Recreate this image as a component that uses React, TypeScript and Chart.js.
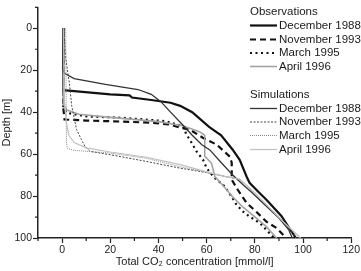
import React, { useEffect, useRef } from "react";
import { Chart, registerables } from "chart.js";

Chart.register(...registerables);

const FONT = "'Liberation Sans', Arial, Helvetica, sans-serif";

// Axis settings
const xMin = -10;
const xMax = 120;
const yMin = -10;
const yMax = 100;
const tickStep = 10;
const labelStep = 20;

const xTitle = "Total CO\u2082 concentration [mmol/l]";
const yTitle = "Depth [m]";

// Observations
const decObsConc = [0.5, 0.5, 5, 20, 28, 29, 37, 45, 49, 54, 61, 66, 70.8, 73.7, 76.6, 77.8, 81, 85, 91, 97];
const decObsDepth = [0, 29.5, 30, 31.5, 32, 33, 34.2, 35.5, 37, 40, 47, 51, 57.9, 62.7, 70.8, 73.7, 77.5, 82, 89.5, 100];

const novObsConc = [0.5, 0.5, 1, 10, 25, 36.4, 44.7, 49, 53, 58.4, 64.2, 69.6, 70.4, 70.4, 72.9, 76.6, 80.7, 84.9, 89, 93];
const novObsDepth = [0, 38, 43.5, 44, 44.5, 45, 45.9, 47.4, 48.3, 52.2, 55.5, 61.2, 64.1, 72.2, 77, 83.3, 87.6, 92.3, 95.2, 100];

const marObsConc = [0.5, 0.5, 2, 10, 25, 43, 50.2, 51.6, 53, 55.8, 58.5, 60, 63, 67.5, 70.3, 72.3, 75.1, 77.8, 82, 86, 88];
const marObsDepth = [0, 38, 40.3, 42, 42.7, 44.3, 46.7, 50.7, 53.1, 58.7, 62.7, 66.7, 71, 75.4, 80.2, 84, 87.4, 89.8, 92.8, 97.6, 100];

const aprObsConc = [0.5, 0.5, 2, 7, 20, 40, 50, 57, 59.2, 59.2, 62, 63.4, 66, 68.3, 70.8, 75, 79, 84.9, 89];
const aprObsDepth = [0, 36, 39, 41, 42.5, 44.5, 46.5, 49.3, 51, 61, 64.3, 70.7, 74, 77, 80.4, 85.2, 89, 94.7, 100];

// Simulations
const decSimConc = [0.3, 0.3, 1, 5, 18, 31.5, 37, 41, 45, 50, 54, 58, 61.3, 66, 70.8, 75, 79, 84, 90, 94, 95.5];
const decSimDepth = [0, 19.5, 21.5, 24, 26.8, 29.2, 31.5, 35, 40, 46, 51, 55.5, 58, 64, 70, 74.5, 78.5, 84, 90.5, 96, 100];

const novSimConc = [0.5, 1, 1.5, 3, 4, 6, 8, 9.5, 11.6, 20, 35, 49, 60, 67, 73.7, 80, 86, 92, 97];
const novSimDepth = [0, 5, 14, 26, 37, 48.3, 53, 56.3, 58.7, 60.3, 63.5, 66.7, 68.8, 70.5, 72, 78.5, 85.5, 92.5, 100];

const marSimConc = [1.5, 1.8, 2.2, 5, 20, 35, 49, 60, 67, 73.7, 80, 86, 92, 98.5];
const marSimDepth = [0, 54, 57.3, 58.2, 59.5, 62, 66, 68.8, 70.5, 72, 78.5, 85.5, 92.5, 100];

const aprSimConc = [0.5, 1, 1.8, 2.8, 5, 10, 20, 35, 49, 60, 67, 73.7, 80, 86, 92, 99];
const aprSimDepth = [0, 35, 45, 51, 54.5, 57, 59, 61.5, 65, 68.5, 70.5, 72, 78.5, 85.5, 92.5, 100];

const obsLabels = ["December 1988", "November 1993", "March 1995", "April 1996"];
const simLabels = ["December 1988", "November 1993", "March 1995", "April 1996"];
const groupTitles = ["Observations", "Simulations"];

type Style = { color: string; width: number; dash: number[] };

const obsStyles: Style[] = [
  { color: "#111111", width: 2.2, dash: [] },
  { color: "#111111", width: 2.2, dash: [6, 4] },
  { color: "#111111", width: 2.2, dash: [2, 3.5] },
  { color: "#a3a3a3", width: 1.6, dash: [] },
];
const simStyles: Style[] = [
  { color: "#333333", width: 1.3, dash: [] },
  { color: "#444444", width: 1, dash: [2, 1.5] },
  { color: "#8a8a8a", width: 1, dash: [1, 1] },
  { color: "#c0c0c0", width: 1.2, dash: [] },
];

const zip = (xs: number[], ys: number[]) => xs.map((x, i) => ({ x, y: ys[i] }));

const obsSeries = [
  zip(decObsConc, decObsDepth),
  zip(novObsConc, novObsDepth),
  zip(marObsConc, marObsDepth),
  zip(aprObsConc, aprObsDepth),
];
const simSeries = [
  zip(decSimConc, decSimDepth),
  zip(novSimConc, novSimDepth),
  zip(marSimConc, marSimDepth),
  zip(aprSimConc, aprSimDepth),
];

const minorTicks = {
  id: "minorTicks",
  afterDraw(chart: any) {
    const ctx = chart.ctx;
    const xs = chart.scales.x;
    const ys = chart.scales.y;
    ctx.save();
    ctx.strokeStyle = "#222";
    ctx.lineWidth = 1.2;
    ctx.beginPath();
    for (let v = xMin; v <= xMax; v += tickStep) {
      if (v % labelStep !== 0) {
        const p = xs.getPixelForValue(v);
        ctx.moveTo(p, xs.top);
        ctx.lineTo(p, xs.top + 3);
      }
    }
    for (let v = yMin; v <= yMax; v += tickStep) {
      if (v % labelStep !== 0) {
        const p = ys.getPixelForValue(v);
        ctx.moveTo(ys.right, p);
        ctx.lineTo(ys.right - 3, p);
      }
    }
    ctx.stroke();
    ctx.restore();
  },
};

const customLegend = {
  id: "customLegend",
  afterDraw(chart: any) {
    const ctx = chart.ctx;
    ctx.save();
    ctx.font = `11.5px ${FONT}`;
    ctx.fillStyle = "#1a1a1a";
    ctx.textBaseline = "middle";
    ctx.textAlign = "left";
    const groups = [
      { title: groupTitles[0], labels: obsLabels, styles: obsStyles, top: 11.5, rows: [25.5, 39.5, 53, 66.5] },
      { title: groupTitles[1], labels: simLabels, styles: simStyles, top: 95, rows: [108.5, 122, 135.5, 149.5] },
    ];
    for (const g of groups) {
      ctx.fillText(g.title, 250, g.top);
      g.labels.forEach((lab, i) => {
        const st = g.styles[i];
        const y = g.rows[i];
        ctx.beginPath();
        ctx.strokeStyle = st.color;
        ctx.lineWidth = st.width;
        ctx.setLineDash(st.dash);
        ctx.moveTo(250, y);
        ctx.lineTo(277, y);
        ctx.stroke();
        ctx.setLineDash([]);
        ctx.fillText(lab, 279, y);
      });
    }
    ctx.restore();
  },
};

export default function App() {
  const ref = useRef<HTMLCanvasElement | null>(null);

  useEffect(() => {
    if (!ref.current) return;
    const mk = (data: any[], st: Style, label: string) => ({
      label,
      data,
      showLine: true,
      pointRadius: 0,
      borderColor: st.color,
      borderWidth: st.width,
      borderDash: st.dash,
      fill: false,
      tension: 0,
    });
    const datasets = [
      ...simSeries.map((d, i) => mk(d, simStyles[i], "Sim " + simLabels[i])).reverse(),
      ...obsSeries.map((d, i) => mk(d, obsStyles[i], "Obs " + obsLabels[i])).reverse(),
    ];
    const tickColor = (c: any) =>
      c.tick && c.tick.value % labelStep === 0 ? "#222" : "rgba(0,0,0,0)";
    const chart = new Chart(ref.current, {
      type: "scatter",
      data: { datasets },
      options: {
        animation: false,
        responsive: false,
        layout: { padding: { top: 7, right: 9, left: 0, bottom: 0 } },
        plugins: { legend: { display: false }, tooltip: { enabled: false } },
        scales: {
          x: {
            type: "linear",
            min: xMin,
            max: xMax,
            afterFit: (s: any) => {
              s.height = 33;
            },
            ticks: {
              stepSize: tickStep,
              autoSkip: false,
              maxRotation: 0,
              padding: 1,
              color: "#222",
              font: { family: FONT, size: 10.5 },
              callback: (v: any) => (v % labelStep === 0 && v >= 0 ? String(v) : ""),
            },
            grid: { display: true, drawOnChartArea: false, drawTicks: true, tickLength: 5, tickColor, tickWidth: 1.2 },
            border: { display: true, color: "#222", width: 1.5 },
            title: {
              display: true,
              text: xTitle,
              color: "#222",
              font: { family: FONT, size: 11 },
              padding: { top: 0, bottom: 2 },
            },
          },
          y: {
            type: "linear",
            reverse: true,
            min: yMin,
            max: yMax,
            afterFit: (s: any) => {
              s.width = 38;
            },
            ticks: {
              stepSize: tickStep,
              autoSkip: false,
              padding: 1,
              color: "#222",
              font: { family: FONT, size: 10.5 },
              callback: (v: any) => (v % labelStep === 0 && v >= 0 ? String(v) : ""),
            },
            grid: { display: true, drawOnChartArea: false, drawTicks: true, tickLength: 5, tickColor, tickWidth: 1.2 },
            border: { display: true, color: "#222", width: 1.5 },
            title: {
              display: true,
              text: yTitle,
              color: "#222",
              font: { family: FONT, size: 11 },
              padding: { top: 0, bottom: 0 },
            },
          },
        },
      },
      plugins: [minorTicks, customLegend],
    });
    return () => chart.destroy();
  }, []);

  return (
    <div style={{ position: "fixed", left: 0, top: 0, width: 361, height: 271, background: "#fff" }}>
      <canvas ref={ref} width={361} height={271} style={{ display: "block" }} />
    </div>
  );
}
